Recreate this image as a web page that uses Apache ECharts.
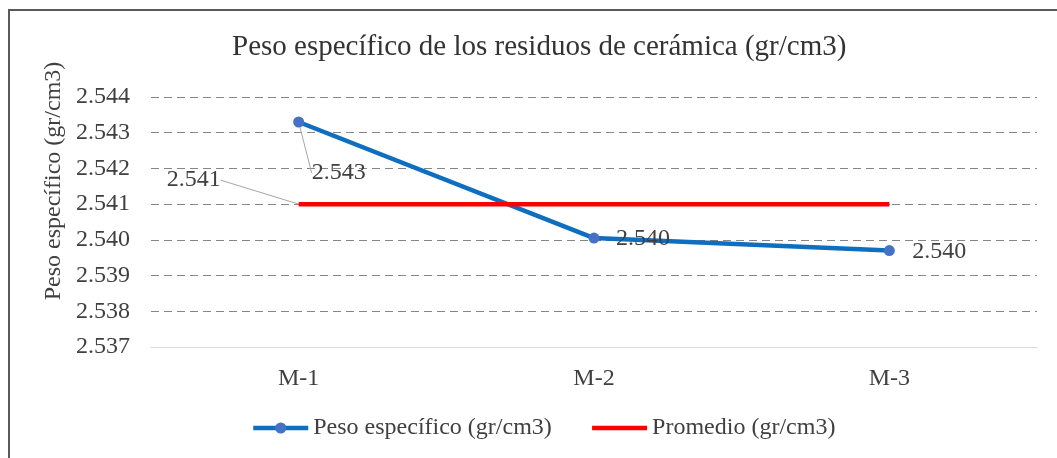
<!DOCTYPE html>
<html>
<head>
<meta charset="utf-8">
<script src="https://cdn.jsdelivr.net/npm/echarts@6/dist/echarts.min.js"></script>
<style>
html,body{margin:0;padding:0;background:#fff;}
#chart{width:1057px;height:458px;}
</style>
</head>
<body>
<div id="chart"></div>
<script>
const titleText = 'Peso específico de los residuos de cerámica (gr/cm3)';
const yAxisTitle = 'Peso específico (gr/cm3)';
const categories = ['M-1', 'M-2', 'M-3'];
const pesoName = 'Peso específico (gr/cm3)';
const pesoValues = [2.5433, 2.54005, 2.5397];
const promedioName = 'Promedio (gr/cm3)';
const promedioValues = [2.541, 2.541, 2.541];
const yMin = 2.537;
const yMax = 2.544;
const yStep = 0.001;

// label offsets (relative to point centre) as placed in the original
const pesoLabelOffsets = [[40, 51], [49, 1], [50, 1]];
const promedioLabelOffsets = [[-105, -24], null, null];

const FONT = '"Liberation Serif", "Times New Roman", serif';
const TXT = '#404040';

const chart = echarts.init(document.getElementById('chart'));

const pesoData = pesoValues.map((v, i) => ({
  value: v,
  labelLine: { show: i === 0 }
}));
const promedioData = promedioValues.map((v, i) => ({
  value: v,
  label: { show: promedioLabelOffsets[i] !== null },
  labelLine: { show: promedioLabelOffsets[i] !== null }
}));

chart.setOption({
  animation: false,
  backgroundColor: '#fff',
  title: {
    text: titleText,
    left: 227,
    top: 28,
    textStyle: { fontFamily: FONT, fontSize: 29, fontWeight: 'normal', color: '#333' }
  },
  graphic: [
    {
      type: 'rect',
      shape: { x: 9, y: 10, width: 1200, height: 600 },
      style: { fill: 'none', stroke: '#595959', lineWidth: 2 },
      silent: true, z: 100
    },
    {
      type: 'text',
      x: 54, y: 181,
      rotation: Math.PI / 2,
      style: {
        text: yAxisTitle, fontFamily: FONT, fontSize: 24, fill: TXT,
        align: 'center', verticalAlign: 'middle'
      }
    }
  ],
  legend: {
    left: 246,
    top: 411,
    itemWidth: 55,
    itemHeight: 14,
    itemGap: 38,
    textStyle: { fontFamily: FONT, fontSize: 24, color: TXT },
    data: [
      { name: pesoName, lineStyle: { width: 4.5 } },
      { name: promedioName, lineStyle: { width: 4.5 }, itemStyle: { opacity: 0 } }
    ]
  },
  grid: { left: 151, right: 20, top: 97, bottom: 111 },
  xAxis: {
    type: 'category',
    data: categories,
    boundaryGap: true,
    axisLine: { lineStyle: { color: '#d9d9d9', width: 1 } },
    axisTick: { show: false },
    axisLabel: { margin: 20, fontFamily: FONT, fontSize: 24, color: TXT }
  },
  yAxis: {
    type: 'value',
    min: yMin,
    max: yMax,
    interval: yStep,
    axisLine: { show: false },
    axisTick: { show: false },
    axisLabel: {
      margin: 21, fontFamily: FONT, fontSize: 24, color: TXT,
      formatter: v => v.toFixed(3)
    },
    splitLine: { lineStyle: { color: '#858585', type: [8, 5], width: 1 } }
  },
  series: [
    {
      name: pesoName,
      type: 'line',
      data: pesoData,
      symbol: 'circle',
      symbolSize: 11,
      lineStyle: { color: '#0E6FC0', width: 4.5 },
      itemStyle: { color: '#4472C4' },
      label: {
        show: true, position: 'inside',
        fontFamily: FONT, fontSize: 24, color: TXT,
        formatter: p => p.value.toFixed(3)
      },
      labelLine: { show: false, lineStyle: { color: '#a6a6a6', width: 1 } },
      labelLayout: p => ({ dx: pesoLabelOffsets[p.dataIndex][0], dy: pesoLabelOffsets[p.dataIndex][1] }),
      z: 2
    },
    {
      name: promedioName,
      type: 'line',
      data: promedioData,
      symbol: 'circle',
      symbolSize: 1,
      lineStyle: { color: '#FF0000', width: 4.5 },
      itemStyle: { color: '#FF0000' },
      label: {
        show: false, position: 'inside',
        fontFamily: FONT, fontSize: 24, color: TXT,
        formatter: p => p.value.toFixed(3)
      },
      labelLine: { show: false, lineStyle: { color: '#a6a6a6', width: 1 } },
      labelLayout: p => {
        const o = promedioLabelOffsets[p.dataIndex];
        return o ? { dx: o[0], dy: o[1] } : {};
      },
      z: 3
    }
  ]
});
</script>
</body>
</html>
